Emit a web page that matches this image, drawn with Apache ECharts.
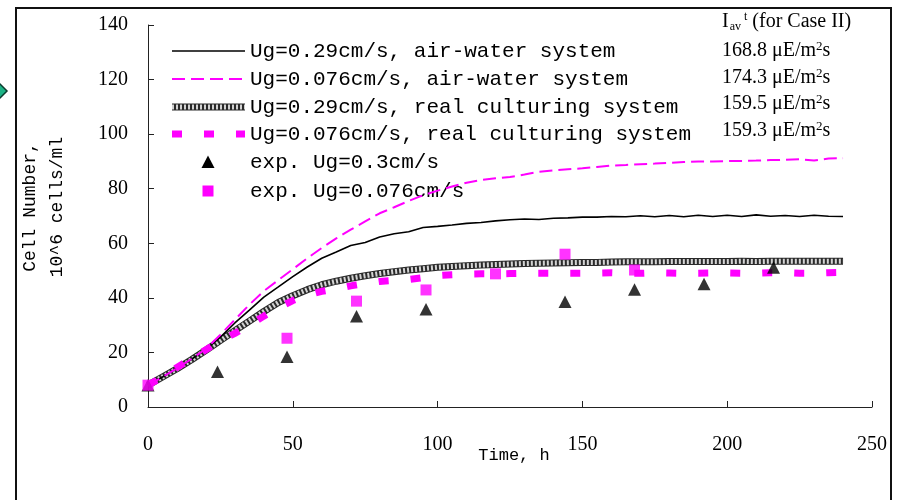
<!DOCTYPE html>
<html>
<head>
<meta charset="utf-8">
<script src="https://cdn.jsdelivr.net/npm/echarts@6/dist/echarts.min.js"></script>
<style>html,body{margin:0;padding:0;background:#fff;}#c{width:898px;height:500px;}</style>
</head>
<body>
<div id="c"></div>
<script>
// ---- data ----
var timeH = [0,5,10,15,20,25,30,35,40,45,50,55,60,65,70,75,80,85,90,95,100,105,110,115,120,125,130,135,140,145,150,155,160,165,170,175,180,185,190,195,200,205,210,215,220,225,230,235,240];
var airWater029 = [8,11,14.2,17.5,21,25.6,30.8,35.5,40.3,44,47.8,51.3,54.5,56.8,59.2,60.3,62.3,63.5,64.2,65.8,66.2,66.7,67.3,67.6,68.2,68.6,68.9,68.7,69.2,69.3,69.6,69.6,69.8,69.7,70.1,69.7,70.2,69.7,70.3,69.8,70.3,69.8,70.4,69.9,70.2,69.8,70.3,69.9,69.8];
var airWater0076 = [8,11,14.2,17.6,21.3,26.5,32,37.5,42.5,46.5,50.5,54.5,58.3,61.8,65,68,71,73.2,75.5,77.6,79.3,80.8,82.2,83.2,83.8,84.3,85.2,86.2,86.7,87.1,87.5,88,88.5,88.7,89,89.2,89.5,89.8,90,90,90.1,90.2,90.3,90.5,90.6,90.8,90.3,91.1,91.2];
var real029 = [8,11,14,17.3,20.8,24.4,28,31.5,35,38.3,40.8,43,44.8,46.1,47.2,48.1,48.9,49.6,50.2,50.7,51.2,51.5,51.8,52,52.2,52.4,52.6,52.7,52.8,52.9,53,53,53.1,53.2,53.2,53.2,53.3,53.3,53.3,53.3,53.3,53.4,53.3,53.4,53.4,53.4,53.4,53.4,53.4];
var real0076 = [8,11,14.5,17.8,21,24.2,27,30,33.3,36.4,39,41,42.4,43.3,44.4,45.3,46,46.4,46.7,47.4,48.2,48.5,48.7,48.8,48.8,48.9,49,49,49,49,49,49.1,49.2,49,49,49.2,49.1,49,49,49.1,49.1,49,49,49.2,49.2,49,49,49.2,49.3];
var expTime03 = [0,24,48,72,96,144,168,192,216];
var exp03 = [8,12.9,18.4,33.3,35.8,38.6,43.1,45.1,51.1];
var expTime0076 = [0,48,72,96,120,144,168];
var exp0076 = [8,25.2,38.8,42.9,48.8,56,50.2];
var seriesNames = ['Ug=0.29cm/s, air-water system','Ug=0.076cm/s, air-water system','Ug=0.29cm/s, real culturing system','Ug=0.076cm/s, real culturing system','exp. Ug=0.3cm/s','exp. Ug=0.076cm/s'];
var iavValues = ['168.8','174.3','159.5','159.3'];
var xTicks = {min:0,max:250,interval:50};
var yTicks = {min:0,max:140,interval:20};

function pairs(xs, ys){ return xs.map(function(x,i){ return [x, ys[i]]; }); }

var chart = echarts.init(document.getElementById('c'), null, {renderer:'canvas'});
var serif = 'Liberation Serif, Times New Roman, serif';
var mono = 'Liberation Mono, Courier New, monospace';

var S = {
  black:{color:'#000', width:1.6},
  magThin:{color:'#ff00ff', width:2, dash:[13,6]},
  grayOuter:{color:'#2a2a2a', width:7},
  grayInner:{color:'#d4d4d4', width:5, dash:[2,2]},
  magThick:{color:'#ff00ff', width:7, dash:[10,22]}
};

var graphics = [
  {type:'rect', shape:{x:16,y:8,width:875,height:620}, style:{fill:'none', stroke:'#111', lineWidth:2}, silent:true},
  {type:'polygon', shape:{points:[[-2,82],[7,91],[-2,100],[-11,91]]}, style:{fill:'#1db386', stroke:'#0b3b2d', lineWidth:1.5}, silent:true},
  {type:'text', x:44, y:207, rotation:Math.PI/2, style:{text:'Cell Number,\n10^6 cells/ml', font:'18px ' + mono, fill:'#000', textAlign:'center', textVerticalAlign:'middle', lineHeight:27}},
  {type:'text', x:514, y:455, style:{text:'Time, h', font:'17px ' + mono, fill:'#000', textAlign:'center', textVerticalAlign:'middle'}},
  {type:'text', x:722, y:22, style:{
    text:'{n|I}{sub|av}{sup|t}{n| (for Case II)}', textVerticalAlign:'middle', fill:'#000',
    rich:{n:{fontSize:20,fontFamily:serif,lineHeight:24,verticalAlign:'middle'}, sub:{fontSize:12,fontFamily:serif,padding:[10,0,0,1]}, sup:{fontSize:12,fontFamily:serif,padding:[0,0,10,3]}}
  }}
];
var rowsY = [51,78,104,131];
iavValues.forEach(function(v,i){
  graphics.push({type:'text', x:722, y:rowsY[i], style:{
    text:'{n|' + v + ' \u03bcE/m}{sup|2}{n|s}', textVerticalAlign:'middle', fill:'#000',
    rich:{n:{fontSize:20,fontFamily:serif,lineHeight:24}, sup:{fontSize:13,fontFamily:serif,padding:[0,0,9,0]}}
  }});
});

// legend (drawn as graphic so the line styles match)
var legY = [51,79,107,134,162,191];
var lx0 = 172, lx1 = 245, tx = 250;
function legLine(y, st){
  return {type:'line', shape:{x1:lx0,y1:y,x2:lx1,y2:y}, silent:true,
    style:{stroke:st.color, lineWidth:st.width, lineDash:st.dash || null, lineCap:'butt'}};
}
graphics.push(legLine(legY[0], S.black));
graphics.push(legLine(legY[1], S.magThin));
graphics.push(legLine(legY[2], S.grayOuter));
graphics.push(legLine(legY[2], S.grayInner));
graphics.push(legLine(legY[3], S.magThick));
graphics.push({type:'polygon', silent:true, shape:{points:[[208,legY[4]-6.5],[214.5,legY[4]+6],[201.5,legY[4]+6]]}, style:{fill:'#000'}});
graphics.push({type:'rect', silent:true, shape:{x:202.5,y:legY[5]-5.5,width:11,height:11}, style:{fill:'#ff00ff'}});
seriesNames.forEach(function(nm,i){
  graphics.push({type:'text', x:tx, y:legY[i], silent:true, style:{text:nm, font:'21px ' + mono, fill:'#000', textAlign:'left', textVerticalAlign:'middle'}});
});

function ls(st){ return {color:st.color, width:st.width, type:st.dash || 'solid', cap:'butt'}; }

var option = {
  animation:false,
  backgroundColor:'#fff',
  grid:{left:148, right:26, top:25, bottom:93, containLabel:false},
  xAxis:{
    type:'value', min:xTicks.min, max:xTicks.max, interval:xTicks.interval,
    axisLine:{lineStyle:{color:'#222', width:1}},
    axisTick:{inside:true, length:6, lineStyle:{color:'#222'}},
    axisLabel:{margin:28, fontFamily:serif, fontSize:20, color:'#000'},
    splitLine:{show:false}
  },
  yAxis:{
    type:'value', min:yTicks.min, max:yTicks.max, interval:yTicks.interval,
    axisLine:{show:true, lineStyle:{color:'#222', width:1}},
    axisTick:{show:true, inside:true, length:6, lineStyle:{color:'#222'}},
    axisLabel:{margin:20, fontFamily:serif, fontSize:20, color:'#000'},
    splitLine:{show:false}
  },
  graphic:graphics,
  series:[
    {name:seriesNames[0], type:'line', data:pairs(timeH, airWater029), showSymbol:false, symbol:'none',
     lineStyle:ls(S.black), z:3},
    {name:seriesNames[1], type:'line', data:pairs(timeH, airWater0076), showSymbol:false, symbol:'none',
     lineStyle:ls(S.magThin), z:3},
    {name:seriesNames[2], type:'line', data:pairs(timeH, real029), showSymbol:false, symbol:'none',
     lineStyle:ls(S.grayOuter), z:2},
    {name:seriesNames[2] + ' (texture)', type:'line', data:pairs(timeH, real029), showSymbol:false, symbol:'none',
     lineStyle:ls(S.grayInner), z:2},
    {name:seriesNames[3], type:'line', data:pairs(timeH, real0076), showSymbol:false, symbol:'none',
     lineStyle:ls(S.magThick), z:4},
    {name:seriesNames[4], type:'scatter', data:pairs(expTime03, exp03), symbol:'triangle', symbolSize:[13,12.5],
     itemStyle:{color:'#000'}, z:5},
    {name:seriesNames[5], type:'scatter', data:pairs(expTime0076, exp0076), symbol:'rect', symbolSize:11,
     itemStyle:{color:'#ff00ff'}, z:6}
  ]
};
chart.setOption(option);
</script>
</body>
</html>
